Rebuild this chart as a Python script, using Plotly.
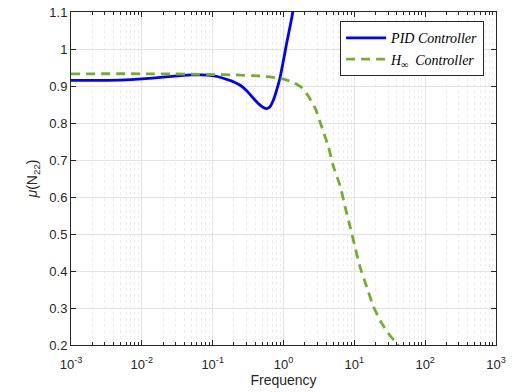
import numpy as np
import plotly.graph_objects as go

# ---- data ----
pid_freq = [0.001, 0.002, 0.005, 0.01, 0.02, 0.035, 0.05, 0.07, 0.092, 0.12, 0.158, 0.2,
            0.245, 0.3, 0.375, 0.45, 0.52, 0.58, 0.64, 0.72, 0.80, 0.89, 1.0, 1.12, 1.25, 1.4]
pid_mu = [0.915, 0.915, 0.916, 0.919, 0.924, 0.928, 0.930, 0.930, 0.929, 0.925, 0.918, 0.911,
          0.902, 0.888, 0.867, 0.851, 0.842, 0.839, 0.843, 0.862, 0.889, 0.921, 0.97, 1.02,
          1.065, 1.115]

hinf_freq = [0.001, 0.01, 0.05, 0.1, 0.2, 0.47, 0.89, 1.11, 1.4, 1.8, 2.2, 2.8, 3.46,
             4.3, 5.0, 6.3, 7.4, 8.7, 10.2, 12.0, 14.9, 18.6, 24.3, 32.0, 39.6, 42.0]
hinf_mu = [0.933, 0.933, 0.932, 0.931, 0.930, 0.927, 0.921, 0.916, 0.909, 0.896, 0.875,
           0.840, 0.790, 0.736, 0.686, 0.630, 0.574, 0.520, 0.466, 0.412, 0.358, 0.304,
           0.259, 0.225, 0.205, 0.198]

x_tickvals = [1e-3, 1e-2, 1e-1, 1e0, 1e1, 1e2, 1e3]
x_ticktext = ["10<sup>-3</sup>", "10<sup>-2</sup>", "10<sup>-1</sup>", "10<sup>0</sup>",
              "10<sup>1</sup>", "10<sup>2</sup>", "10<sup>3</sup>"]
y_tickvals = [0.2, 0.3, 0.4, 0.5, 0.6, 0.7, 0.8, 0.9, 1.0, 1.1]
y_ticktext = ["0.2", "0.3", "0.4", "0.5", "0.6", "0.7", "0.8", "0.9", "1", "1.1"]

minor_vals = [m * 10.0 ** e for e in range(-3, 3) for m in range(2, 10)]

axcol = "#262626"
fig = go.Figure()
fig.add_trace(go.Scatter(x=pid_freq, y=pid_mu, mode="lines", name="<i>PID Controller</i>",
                         line=dict(color="#0000FF", width=2.8, shape="spline", smoothing=0.5)))
fig.add_trace(go.Scatter(x=hinf_freq, y=hinf_mu, mode="lines",
                         name="<i>H<sub>∞</sub>  Controller</i>",
                         line=dict(color="#77AC30", width=2.8, dash="9px,6px",
                                   shape="spline", smoothing=0.5)))

fig.update_layout(
    width=518, height=392,
    margin=dict(l=71, r=22, t=12, b=47, autoexpand=False),
    paper_bgcolor="white", plot_bgcolor="white",
    font=dict(family="Liberation Sans, Arial", size=13, color=axcol),
    showlegend=True,
    legend=dict(x=0.972, y=0.972, xanchor="right", yanchor="top",
                bgcolor="white", bordercolor=axcol, borderwidth=1,
                font=dict(family="Liberation Serif, Times New Roman", size=14, color="black"),
                itemwidth=40, tracegroupgap=0),
)
fig.update_xaxes(
    type="log", range=[-3, 3], automargin=False,
    tickmode="array", tickvals=x_tickvals, ticktext=x_ticktext,
    ticks="inside", ticklen=5, tickcolor=axcol, tickwidth=1,
    ticklabelstandoff=7,
    showline=True, linecolor=axcol, linewidth=1, mirror="ticks",
    showgrid=True, gridcolor="#e3e3e3", gridwidth=1,
    minor=dict(tickmode="array", tickvals=minor_vals, ticks="inside", ticklen=3,
               tickcolor=axcol, showgrid=True, gridcolor="#ececec", griddash="dot",
               gridwidth=1),
    title=dict(text="Frequency", font=dict(size=14), standoff=4),
    zeroline=False,
)
fig.update_yaxes(
    range=[0.2, 1.1], automargin=False,
    tickmode="array", tickvals=y_tickvals, ticktext=y_ticktext,
    ticks="inside", ticklen=5, tickcolor=axcol, tickwidth=1,
    showline=True, linecolor=axcol, linewidth=1, mirror="ticks",
    showgrid=True, gridcolor="#e3e3e3", gridwidth=1,
    title=dict(text="<i>μ</i>(N<sub>22</sub>)", font=dict(size=14), standoff=8),
    zeroline=False,
)

fig.write_html("out.html")
